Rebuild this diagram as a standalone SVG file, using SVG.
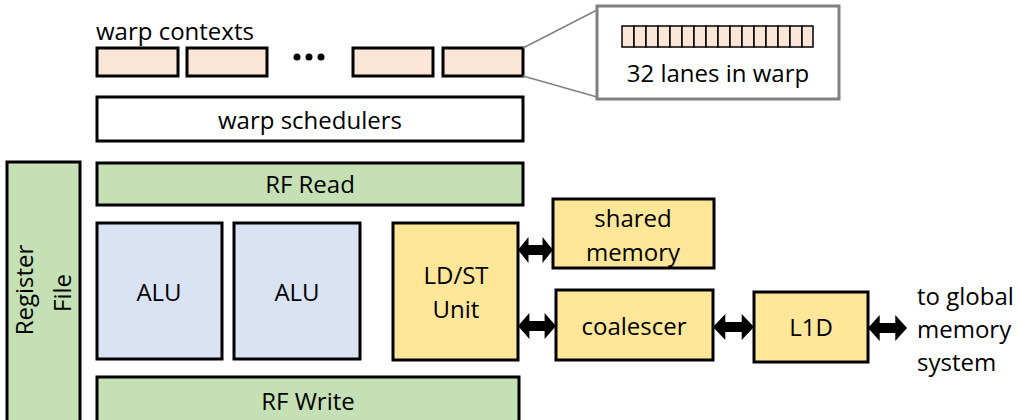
<svg xmlns="http://www.w3.org/2000/svg" width="1019" height="420" viewBox="0 0 1019 420">
  <style>
    .box { stroke: #000; stroke-width: 3; }
    .ctx { fill: #FBE5D6; }
    .green { fill: #C5E0B4; }
    .blue { fill: #DAE3F3; }
    .yellow { fill: #FFE699; }
    .white { fill: #FFFFFF; }
    text { font-family: "Open Sans", "Noto Sans", "Liberation Sans", sans-serif; font-size: 24px; fill: #000; }
    .c { text-anchor: middle; }
    .arrow { fill: #000; }
  </style>
  <defs>
    <!-- thick double-headed arrow, unit length 40, centred on y=0 -->
    <polygon id="dbl" points="0,0 12,-13 12,-5 28,-5 28,-13 40,0 28,13 28,5 12,5 12,13"/>
  </defs>
  <rect width="1019" height="420" fill="#fff"/>

  <g id="warp-contexts">
    <text x="96" y="40">warp contexts</text>
    <rect class="box ctx" x="97" y="48" width="81" height="28"/>
    <rect class="box ctx" x="187" y="48" width="80" height="28"/>
    <circle cx="297" cy="57" r="3.5"/>
    <circle cx="309" cy="57" r="3.5"/>
    <circle cx="321" cy="57" r="3.5"/>
    <rect class="box ctx" x="353" y="48" width="80" height="28"/>
    <rect class="box ctx" x="443" y="48" width="80" height="28"/>
  </g>

  <g id="lanes-callout">
    <line x1="523" y1="48" x2="597" y2="10" stroke="#808080" stroke-width="1.5"/>
    <line x1="523" y1="76" x2="597" y2="97" stroke="#808080" stroke-width="1.5"/>
    <rect x="597" y="6" width="242" height="93" fill="#fff" stroke="#808080" stroke-width="3"/>
    <g id="lane-bar" fill="#FBE5D6" stroke="#000" stroke-width="1.5">
      <rect x="622" y="26" width="12" height="21"/>
      <rect x="634" y="26" width="12" height="21"/>
      <rect x="646" y="26" width="12" height="21"/>
      <rect x="658" y="26" width="12" height="21"/>
      <rect x="670" y="26" width="12" height="21"/>
      <rect x="682" y="26" width="12" height="21"/>
      <rect x="694" y="26" width="12" height="21"/>
      <rect x="706" y="26" width="12" height="21"/>
      <rect x="718" y="26" width="12" height="21"/>
      <rect x="730" y="26" width="12" height="21"/>
      <rect x="742" y="26" width="12" height="21"/>
      <rect x="754" y="26" width="12" height="21"/>
      <rect x="766" y="26" width="12" height="21"/>
      <rect x="778" y="26" width="12" height="21"/>
      <rect x="790" y="26" width="12" height="21"/>
      <rect x="802" y="26" width="11" height="21"/>
    </g>
    <text class="c" x="718" y="82">32 lanes in warp</text>
  </g>

  <g id="warp-schedulers">
    <rect class="box white" x="97" y="97" width="426" height="44"/>
    <text class="c" x="310" y="129">warp schedulers</text>
  </g>

  <g id="register-file">
    <rect class="box green" x="7" y="162" width="73" height="270"/>
    <text class="c" transform="translate(45,290) rotate(-90)" x="0" y="-12">Register</text>
    <text class="c" transform="translate(45,293) rotate(-90)" x="0" y="26">File</text>
  </g>

  <g id="rf-read">
    <rect class="box green" x="97" y="163" width="426" height="42"/>
    <text class="c" x="310" y="193">RF Read</text>
  </g>

  <g id="alu-1">
    <rect class="box blue" x="97" y="223" width="125" height="136"/>
    <text class="c" x="159" y="301">ALU</text>
  </g>

  <g id="alu-2">
    <rect class="box blue" x="234" y="223" width="126" height="136"/>
    <text class="c" x="297" y="301">ALU</text>
  </g>

  <g id="ldst-unit">
    <rect class="box yellow" x="393" y="223" width="125" height="137"/>
    <text class="c" x="456" y="284">LD/ST</text>
    <text class="c" x="456" y="318">Unit</text>
  </g>

  <g id="shared-memory">
    <rect class="box yellow" x="553" y="199" width="161" height="69"/>
    <text class="c" x="633" y="227">shared</text>
    <text class="c" x="633" y="261">memory</text>
  </g>

  <g id="coalescer">
    <rect class="box yellow" x="556" y="290" width="157" height="70"/>
    <text class="c" x="634" y="335">coalescer</text>
  </g>

  <g id="l1d">
    <rect class="box yellow" x="754" y="292" width="114" height="70"/>
    <text class="c" x="811" y="336">L1D</text>
  </g>

  <g id="rf-write">
    <rect class="box green" x="97" y="377" width="422" height="60"/>
    <text class="c" x="308" y="410">RF Write</text>
  </g>

  <g id="global-label">
    <text x="917" y="305">to global</text>
    <text x="917" y="338">memory</text>
    <text x="917" y="371">system</text>
  </g>

  <g id="connectors" class="arrow">
    <use href="#dbl" transform="translate(518,250) scale(0.875,1)"/>
    <use href="#dbl" transform="translate(518,326) scale(0.95,1)"/>
    <use href="#dbl" transform="translate(713,327) scale(1.025,1)"/>
    <use href="#dbl" transform="translate(868,328) scale(0.975,1)"/>
  </g>
</svg>
